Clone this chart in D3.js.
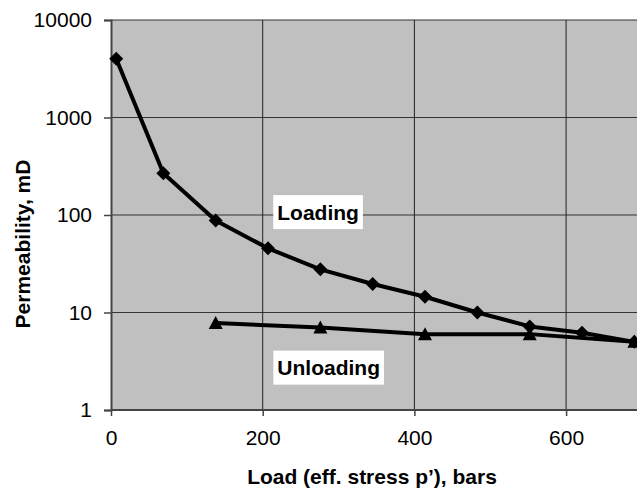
<!DOCTYPE html>
<html>
<head>
<meta charset="utf-8">
<script src="https://cdn.jsdelivr.net/npm/d3@7"></script>
<style>
  html, body { margin: 0; padding: 0; background: #fff; }
  svg { display: block; font-family: "Liberation Sans", Arial, sans-serif; }
</style>
</head>
<body>
<div id="chart"></div>
<script>
// load in bars (1000 psi steps), permeability in mD
const LOAD_X = [6.9, 69, 138, 207, 276, 345, 414, 483, 552, 621, 690];
const LOAD_Y = [4000, 268, 88, 45.5, 27.7, 19.6, 14.5, 10, 7.2, 6.2, 5.0];
const UNLOAD_X = [138, 276, 414, 552, 690];
const UNLOAD_Y = [7.8, 7.0, 6.0, 6.0, 5.0];
const X_TICKS = [0, 200, 400, 600];
const Y_TICKS = [1, 10, 100, 1000, 10000];

const W = 637, H = 489;
const plotL = 111, plotT = 20, plotB = 410;

const x = d3.scaleLinear().domain([0, 800]).range([plotL, plotL + 800 * 0.7585]);
const y = d3.scaleLog().domain([1, 10000]).range([plotB, plotT]);

const svg = d3.select('#chart').append('svg')
  .attr('width', W).attr('height', H);

svg.append('rect')
  .attr('x', plotL).attr('y', plotT)
  .attr('width', x(800) - plotL).attr('height', plotB - plotT)
  .attr('fill', '#c0c0c0');

// gridlines
svg.append('g').selectAll('line')
  .data(Y_TICKS.slice(1))
  .join('line')
  .attr('x1', plotL).attr('x2', x(800))
  .attr('y1', d => y(d)).attr('y2', d => y(d))
  .attr('stroke', '#333').attr('stroke-width', 1);

svg.append('g').selectAll('line')
  .data(X_TICKS.slice(1))
  .join('line')
  .attr('x1', d => x(d)).attr('x2', d => x(d))
  .attr('y1', plotT).attr('y2', plotB)
  .attr('stroke', '#222').attr('stroke-width', 1);

// axes
const yAxis = svg.append('g')
  .attr('transform', `translate(${plotL},0)`)
  .call(d3.axisLeft(y).tickValues(Y_TICKS).tickFormat(d3.format('d')).tickSize(7).tickPadding(12));
const xAxis = svg.append('g')
  .attr('transform', `translate(0,${plotB})`)
  .call(d3.axisBottom(x).tickValues(X_TICKS).tickSize(6).tickPadding(14));

[yAxis, xAxis].forEach(a => {
  a.select('.domain').attr('stroke', '#444').attr('stroke-width', 2);
  a.selectAll('.tick line').attr('stroke', '#444').attr('stroke-width', 1.5);
  a.selectAll('.tick text')
    .attr('font-size', 21).attr('fill', '#000')
    .attr('font-family', '"Liberation Sans", Arial, sans-serif');
});
xAxis.select('.domain').attr('d', `M${plotL},0H${x(800)}`);

// series
const line = d3.line().x(d => x(d[0])).y(d => y(d[1]));
const loadPts = LOAD_X.map((v, i) => [v, LOAD_Y[i]]);
const unloadPts = UNLOAD_X.map((v, i) => [v, UNLOAD_Y[i]]);

[unloadPts, loadPts].forEach(pts => {
  svg.append('path').datum(pts)
    .attr('d', line).attr('fill', 'none')
    .attr('stroke', '#000').attr('stroke-width', 4)
    .attr('stroke-linejoin', 'round');
});

svg.append('g').selectAll('path')
  .data(loadPts)
  .join('path')
  .attr('transform', d => `translate(${x(d[0])},${y(d[1])})`)
  .attr('d', 'M0,-7L7,0L0,7L-7,0Z')
  .attr('fill', '#000');

svg.append('g').selectAll('path')
  .data(unloadPts)
  .join('path')
  .attr('transform', d => `translate(${x(d[0])},${y(d[1])})`)
  .attr('d', 'M0,-7L7,6L-7,6Z')
  .attr('fill', '#000');

// annotations
const notes = [
  { text: 'Loading', bx: 273, by: 107 },
  { text: 'Unloading', bx: 287, by: 2.72 },
];
notes.forEach(n => {
  const g = svg.append('g').attr('transform', `translate(${x(n.bx)},${y(n.by)})`);
  const t = g.append('text')
    .attr('text-anchor', 'middle').attr('dy', '0.36em')
    .attr('font-size', 21).attr('font-weight', 'bold')
    .text(n.text);
  const b = t.node().getBBox();
  g.insert('rect', 'text')
    .attr('x', b.x - 4).attr('y', -17)
    .attr('width', b.width + 8).attr('height', 34)
    .attr('fill', '#fff');
});

// titles
svg.append('text')
  .attr('x', 372).attr('y', 484)
  .attr('text-anchor', 'middle')
  .attr('font-size', 21).attr('font-weight', 'bold')
  .text('Load (eff. stress p\u2019), bars');

svg.append('text')
  .attr('transform', 'translate(30,244) rotate(-90)')
  .attr('text-anchor', 'middle')
  .attr('font-size', 21).attr('font-weight', 'bold')
  .text('Permeability, mD');
</script>
</body>
</html>
